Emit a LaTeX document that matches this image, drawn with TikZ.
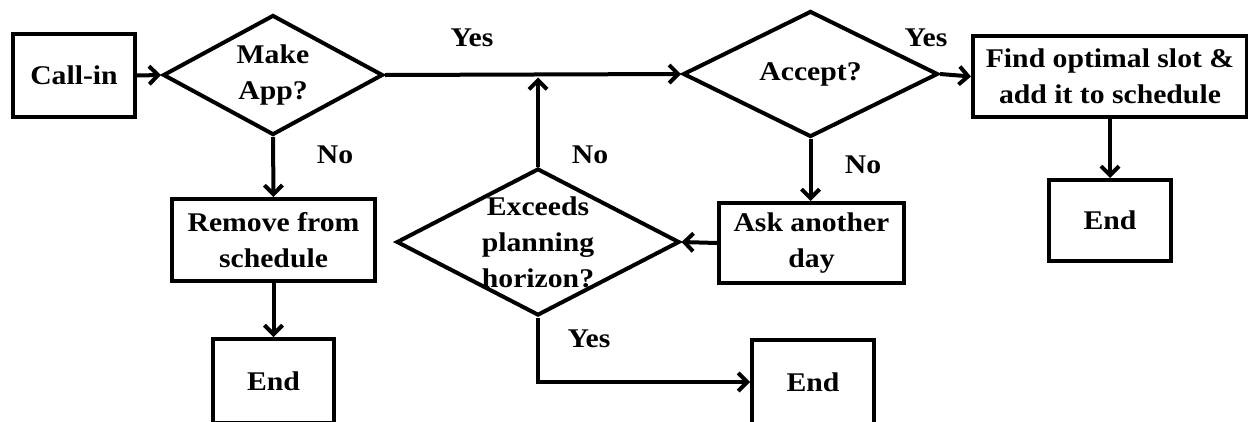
\documentclass[tikz,border=0pt]{standalone}
\usepackage{fontspec}
\setmainfont[FakeStretch=1.1]{Liberation Serif}
\usetikzlibrary{shapes.geometric,arrows.meta}

\begin{document}
\begin{tikzpicture}[x=1pt,y=-1pt,
  every node/.style={font=\fontsize{27}{36}\selectfont\bfseries},
  box/.style={draw,line width=4pt,rectangle,inner sep=0pt,align=center},
  decision/.style={draw,line width=4pt,diamond,inner sep=0pt},
  dtext/.style={align=center},
  flow/.style={line width=4pt,-{Straight Barb[length=9pt,width=18pt]}},
  tag/.style={inner sep=0pt}
]
\useasboundingbox (0,0) rectangle (1248,421);

% process boxes
\node[box,minimum width=122pt,minimum height=83pt] (callin) at (74,75.5) {Call-in};
\node[box,minimum width=203pt,minimum height=82pt] (remove) at (273.5,240) {Remove from\\schedule};
\node[box,minimum width=121pt,minimum height=84pt] (end1) at (273.5,381) {End};
\node[box,minimum width=185pt,minimum height=80pt] (ask) at (811.5,243) {Ask another\\day};
\node[box,minimum width=122pt,minimum height=84pt] (end2) at (813,382) {End};
\node[box,minimum width=274pt,minimum height=81pt] (find) at (1110,76.5) {Find optimal slot \&\\add it to schedule};
\node[box,minimum width=122pt,minimum height=81pt] (end3) at (1110,220.5) {End};

% decisions
\node[decision,minimum width=220pt,minimum height=120pt,
      label={[dtext]center:Make\\App?}] (make) at (273,75) {};
\node[decision,minimum width=255pt,minimum height=126pt,
      label={[dtext]center:Accept?}] (accept) at (810.5,74) {};
\node[decision,minimum width=283pt,minimum height=147pt,
      label={[dtext]center:Exceeds\\planning\\horizon?}] (exceeds) at (538,242) {};

% junction on the main line
\coordinate (join) at (538,77.5);

% connectors
\draw[flow] (callin.east) -- (make.west);
\draw[flow] (make.east) -- (accept.west);
\draw[flow] (make.south) -- (remove.north);
\draw[flow] (remove.south) -- (end1.north);
\draw[flow] (accept.east) -- (find.west);
\draw[flow] (find.south) -- (end3.north);
\draw[flow] (accept.south) -- (accept.south |- ask.north);
\draw[flow] (ask.west) -- (exceeds.east);
\draw[flow] (exceeds.north) -- (join);
\draw[flow] (exceeds.south) |- (end2.west);

% branch labels
\node[tag] (yes1) at (472,38) {Yes};
\node[tag] (no1) at (335,155) {No};
\node[tag] (yes2) at (926,38) {Yes};
\node[tag] (no2) at (863,165) {No};
\node[tag] (no3) at (590,155) {No};
\node[tag] (yes3) at (589,339) {Yes};
\end{tikzpicture}
\end{document}
